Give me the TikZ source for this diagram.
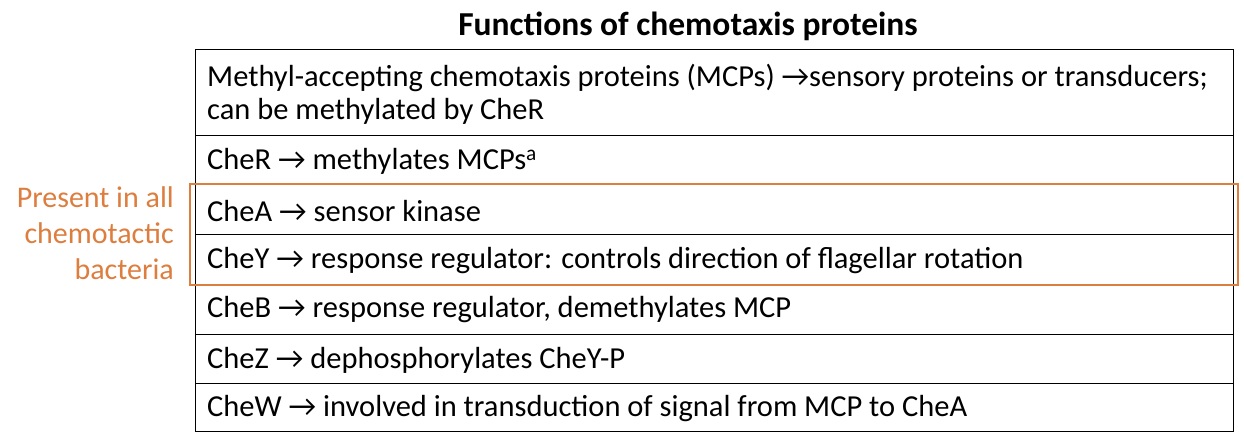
\documentclass[tikz,border=0pt]{standalone}
\usepackage{fontspec}
\setmainfont{Carlito}
\begin{document}
\begin{tikzpicture}[x=1pt,y=-1pt,
  txt/.style={anchor=west,inner sep=0pt,font=\fontsize{30.5}{33}\selectfont,align=left},
  grid/.style={draw=black,line width=0.8pt},
  org/.style={draw={rgb,255:red,221;green,125;blue,62},line width=2.6pt}]
\useasboundingbox (0,0) rectangle (1244,440);
\definecolor{og}{RGB}{221,125,62}
\node[font=\bfseries\fontsize{33.5}{36}\selectfont,inner sep=0pt] (title) at (688,26) {Functions of chemotaxis proteins};
\draw[grid] (195,49) rectangle (1233,431);
\foreach \y in {135,184,234,284,334,383} \draw[grid] (195,\y) -- (1233,\y);
\node[txt] (r1) at (207,94) {Methyl-accepting chemotaxis proteins (MCPs) →sensory proteins or transducers;\\can be methylated by CheR};
\node[txt] (r2) at (207,161) {CheR → methylates MCPs\textsuperscript{a}};
\node[txt] (r3) at (207,211) {CheA → sensor kinase};
\node[txt] (r4) at (207,261) {CheY → response regulator: controls direction of flagellar rotation};
\node[txt] (r5) at (207,310) {CheB → response regulator, demethylates MCP};
\node[txt] (r6) at (207,360) {CheZ → dephosphorylates CheY-P};
\node[txt] (r7) at (207,409) {CheW → involved in transduction of signal from MCP to CheA};
\draw[org] (190,184) rectangle (1238,285);
\node[font=\fontsize{30}{36}\selectfont,align=right,text=og,inner sep=0pt,anchor=east] (lab) at (174,233) {Present in all\\chemotactic\\bacteria};
\end{tikzpicture}
\end{document}
